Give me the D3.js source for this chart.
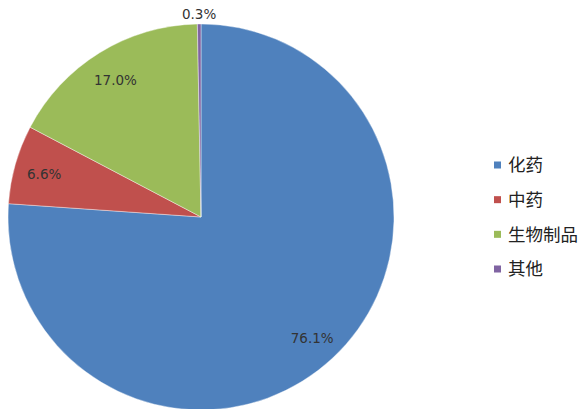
<!DOCTYPE html>
<html><head><meta charset="utf-8">
<script src="https://cdn.jsdelivr.net/npm/d3@7"></script>
<style>body{margin:0;background:#fff}</style>
</head><body>
<svg id="c" width="587" height="409"></svg>
<script>
const categories = ["化药","中药","生物制品","其他"];
const values = [76.1, 6.6, 17.0, 0.3];
const labels = ["76.1%","6.6%","17.0%","0.3%"];
const colors = ["#4F81BD","#C0504D","#9BBB59","#8064A2"];

const svg = d3.select("#c");
const cx = 201, cy = 217, r = 193;
const g = svg.append("g").attr("transform", `translate(${cx},${cy})`);
const pie = d3.pie().sort(null).value(d => d)(values);
const arc = d3.arc().innerRadius(0).outerRadius(r);
g.selectAll("path").data(pie).enter().append("path")
  .attr("d", arc).attr("fill", (d,i) => colors[i])
  .attr("stroke", "#fff").attr("stroke-width", 0.4);

const inner = d3.arc().innerRadius(163).outerRadius(163);
const outer = d3.arc().innerRadius(r + 12).outerRadius(r + 12);
g.selectAll("text").data(pie).enter().append("text")
  .attr("transform", d => {
    const c = (d.data < 1 ? outer : inner).centroid(d);
    return `translate(${c[0]},${c[1] + 2})`;
  })
  .attr("text-anchor", "middle").attr("dy", "0.35em")
  .attr("font-family", "DejaVu Sans, sans-serif").attr("font-size", 13.5)
  .attr("fill", "#333")
  .text((d,i) => labels[i]);

const ly = d3.scalePoint().domain(categories).range([165, 269]);
const lg = svg.append("g");
categories.forEach((c,i) => {
  lg.append("rect").attr("x", 494).attr("y", ly(c) - 3.5).attr("width", 7).attr("height", 7).attr("fill", colors[i]);
  lg.append("text").attr("x", 508).attr("y", ly(c)).attr("dy", "0.36em")
    .attr("font-family", "Noto Sans CJK SC, sans-serif").attr("font-size", 17.5)
    .attr("fill", "#222").text(c);
});
</script>
</body></html>
